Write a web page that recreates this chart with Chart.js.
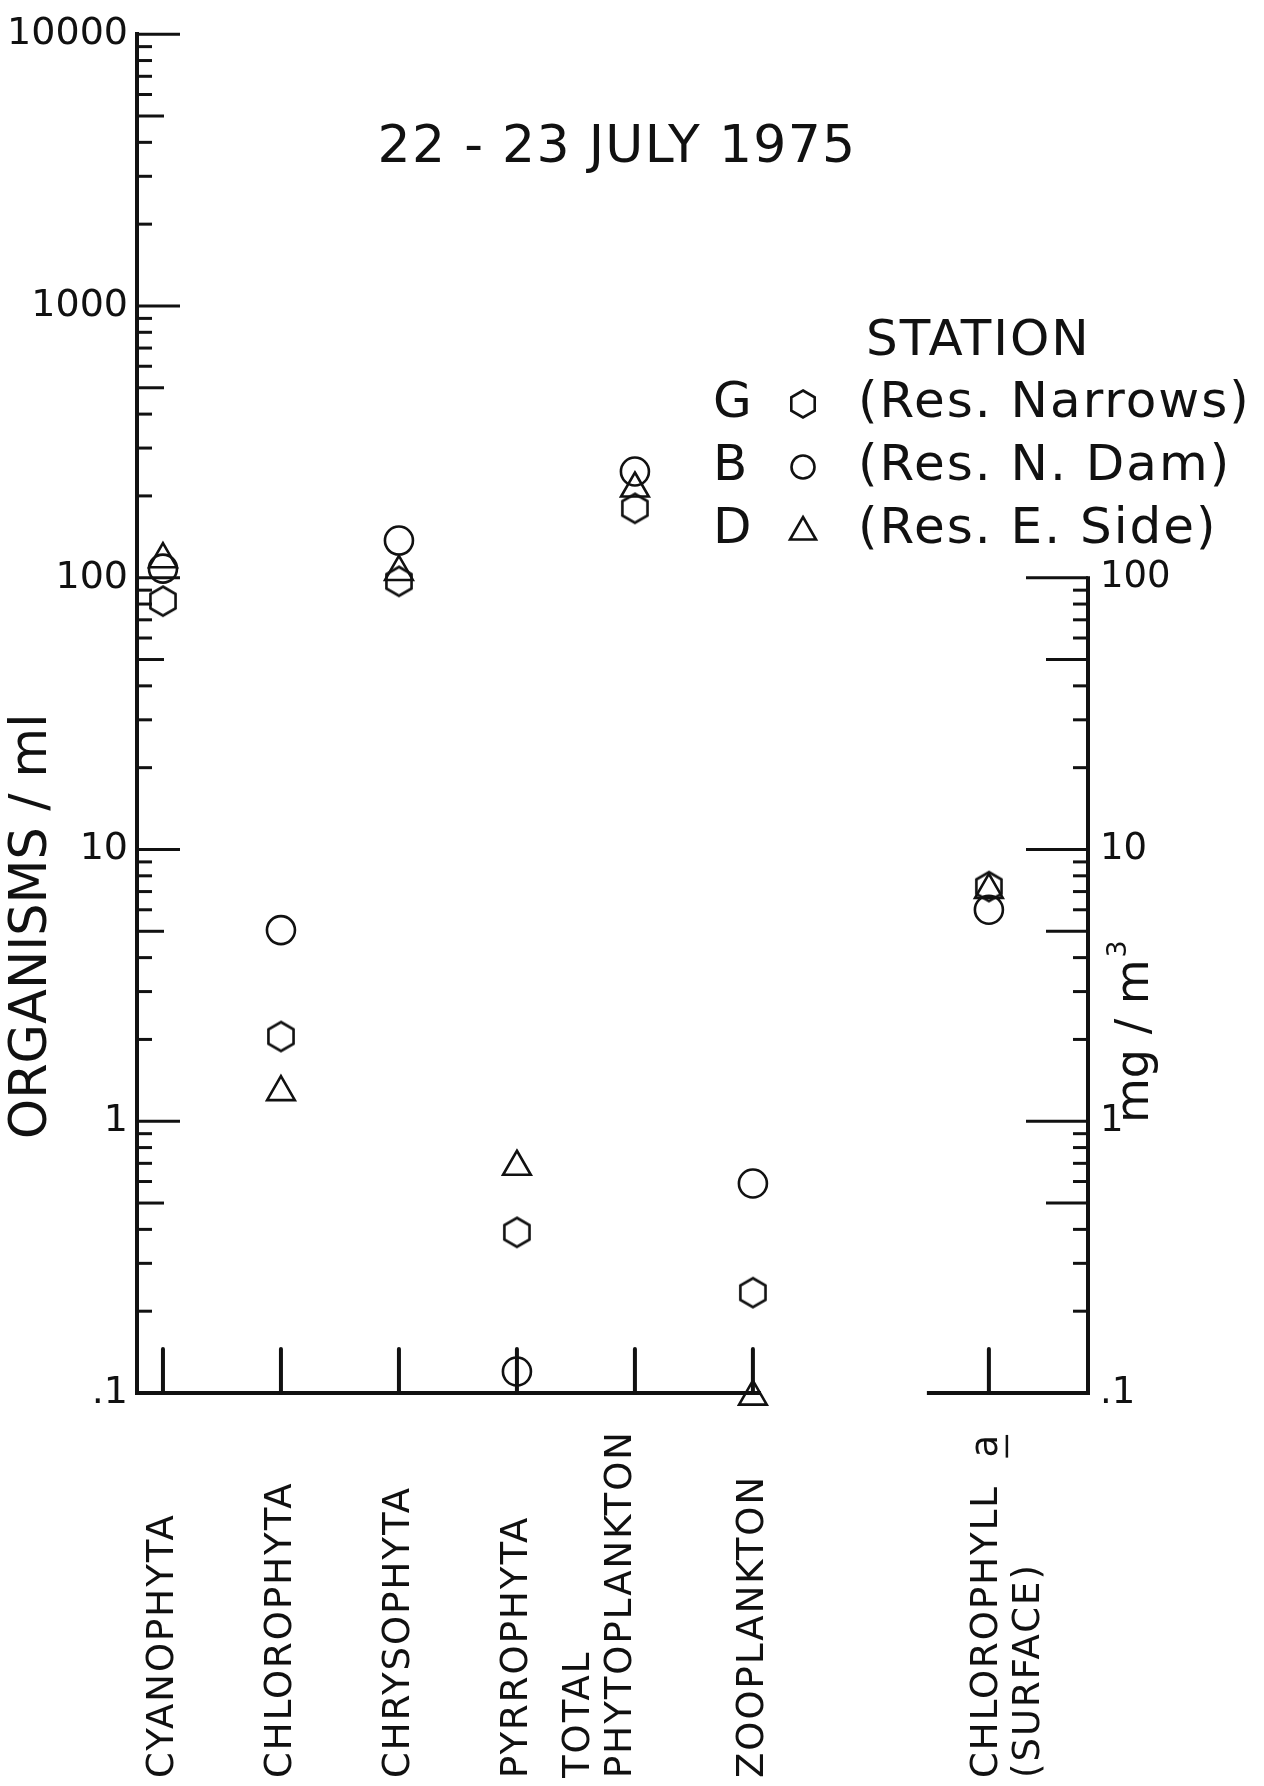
<!DOCTYPE html>
<html>
<head>
<meta charset="utf-8">
<title>Organisms / ml, 22-23 July 1975</title>
<script src="https://cdn.jsdelivr.net/npm/chart.js@4.4.1/dist/chart.umd.min.js"></script>
<style>
  html, body { margin: 0; padding: 0; background: #fff; }
  #box { width: 1264px; height: 1786px; }
</style>
</head>
<body>
<div id="box"><canvas id="chart"></canvas></div>
<script>
// groups along the bottom, "" keeps the gap before chlorophyll
const categories = ["CYANOPHYTA", "CHLOROPHYTA", "CHRYSOPHYTA", "PYRROPHYTA",
  ["TOTAL", "PHYTOPLANKTON"], "ZOOPLANKTON", "", ["CHLOROPHYLL  a", "(SURFACE)"]];

// organisms / ml (left axis)
const stationG = [82, 2.05, 97, 0.39, 180, 0.234];
const stationB = [108, 5.05, 137, 0.12, 246, 0.59];
const stationD = [117, 1.28, 105, 0.68, 213, 0.097];

// chlorophyll a at the surface, mg/m3 (right axis)
const chlorophyllG = [7.3];
const chlorophyllB = [6.0];
const chlorophyllD = [7.1];

const stationCodes = ["G", "B", "D"];
const stationNames = ["(Res. Narrows)", "(Res. N. Dam)", "(Res. E. Side)"];

const leftTicks = [0.1, 1, 10, 100, 1000, 10000];
const leftTickLabels = [".1", "1", "10", "100", "1000", "10000"];
const rightTicks = [0.1, 1, 10, 100];
const rightTickLabels = [".1", "1", "10", "100"];

const chartTitle = "22 - 23 JULY 1975";
const leftTitle = "ORGANISMS / ml";

const ink = "#111";
const FONT = '"DejaVu Sans", sans-serif';
Chart.defaults.font.family = FONT;

const chlIndex = categories.length - 1;

function hexPath(g, cx, cy, R) {
  g.beginPath();
  for (let k = 0; k < 6; k++) {
    const ang = -Math.PI / 2 + k * Math.PI / 3;
    const px = cx + R * Math.cos(ang), py = cy + R * Math.sin(ang);
    if (k) g.lineTo(px, py); else g.moveTo(px, py);
  }
  g.closePath();
}

function triPath(g, cx, cy, r) {
  g.beginPath();
  for (let k = 0; k < 3; k++) {
    const ang = k * 2 * Math.PI / 3;
    const px = cx + Math.sin(ang) * r, py = cy - Math.cos(ang) * r;
    if (k) g.lineTo(px, py); else g.moveTo(px, py);
  }
  g.closePath();
}

// hexagon marker as an image, Chart.js has no hexagon point style
function hexagonImage(R, lw) {
  const s = Math.ceil(2 * R + lw + 2);
  const c = document.createElement("canvas");
  c.width = s; c.height = s;
  const g = c.getContext("2d");
  hexPath(g, s / 2, s / 2, R);
  g.lineWidth = lw;
  g.strokeStyle = ink;
  g.stroke();
  return c;
}

const hexImg = hexagonImage(14.5, 2.6);

function pts(vals, atX) {
  return vals.map((v, i) => ({ x: atX === undefined ? i : atX, y: v }));
}

function markerSet(label, data, axis, style, radius) {
  return {
    label: label,
    data: data,
    yAxisID: axis,
    pointStyle: style,
    pointRadius: radius,
    pointHoverRadius: radius,
    pointBorderWidth: 2.6,
    pointBorderColor: ink,
    pointBackgroundColor: "rgba(0,0,0,0)",
    showLine: false,
    clip: false
  };
}

function seg(ctx, x1, y1, x2, y2) {
  ctx.beginPath();
  ctx.moveTo(x1, y1);
  ctx.lineTo(x2, y2);
  ctx.stroke();
}

// axis decorations the old drawing has: inward ticks, broken bottom axis
const paperAxes = {
  id: "paperAxes",
  beforeDatasetsDraw(chart) {
    const { ctx, chartArea: a, scales: { x, y, y2 } } = chart;
    ctx.save();
    ctx.strokeStyle = ink;
    ctx.lineCap = "butt";

    // left axis ticks
    ctx.lineWidth = 3;
    for (let e = -1; e <= 4; e++) {
      for (let m = 1; m <= 9; m++) {
        const v = m * Math.pow(10, e);
        if (v > 10000 * 1.001) break;
        const len = m === 1 ? 43 : (m === 5 ? 27 : 15);
        const py = y.getPixelForValue(v);
        seg(ctx, a.left, py, a.left + len, py);
      }
    }

    // right axis, only 0.1 to 100
    ctx.lineWidth = 4;
    seg(ctx, a.right, y2.getPixelForValue(0.1) + 2, a.right, y2.getPixelForValue(100) - 1.5);
    ctx.lineWidth = 3;
    for (let e = -1; e <= 2; e++) {
      for (let m = 1; m <= 9; m++) {
        const v = m * Math.pow(10, e);
        if (v > 100 * 1.001) break;
        const len = m === 1 ? 62 : (m === 5 ? 42 : 15);
        const py = y2.getPixelForValue(v);
        seg(ctx, a.right - len, py, a.right, py);
      }
    }

    // bottom axis with the gap
    ctx.lineWidth = 4;
    seg(ctx, a.left - 2, a.bottom, x.getPixelForValue(5) + 8, a.bottom);
    seg(ctx, x.getPixelForValue(chlIndex) - 62, a.bottom, a.right + 2, a.bottom);

    // short upright ticks at each group
    ctx.lineCap = "round";
    categories.forEach((c, i) => {
      if (!c) return;
      const px = x.getPixelForValue(i);
      seg(ctx, px, a.bottom, px, a.bottom - 44);
    });
    ctx.restore();
  },

  afterDraw(chart) {
    const { ctx, scales: { x } } = chart;
    ctx.save();
    ctx.fillStyle = ink;
    ctx.strokeStyle = ink;

    // title
    ctx.font = "52px " + FONT;
    ctx.letterSpacing = "1.3px";
    ctx.textAlign = "center";
    ctx.textBaseline = "middle";
    ctx.fillText(chartTitle, 617, 148);

    // station key
    ctx.font = "50px " + FONT;
    ctx.letterSpacing = "2px";
    ctx.textAlign = "left";
    ctx.fillText("STATION", 866, 342);
    const rowY = [404, 467, 530];
    stationCodes.forEach((code, k) => {
      ctx.fillText(code, 713, rowY[k]);
      ctx.fillText(stationNames[k], 858, rowY[k]);
      ctx.lineWidth = 2.6;
      if (k === 0) hexPath(ctx, 803, rowY[k], 13.5);
      else if (k === 1) { ctx.beginPath(); ctx.arc(803, rowY[k], 11.5, 0, Math.PI * 2); }
      else triPath(ctx, 803, rowY[k] + 2, 15);
      ctx.stroke();
    });

    // left axis title
    ctx.letterSpacing = "0px";
    ctx.save();
    ctx.translate(33, 1139);
    ctx.rotate(-Math.PI / 2);
    ctx.font = "51px " + FONT;
    ctx.textAlign = "left";
    ctx.textBaseline = "middle";
    ctx.fillText(leftTitle, 0, 0);
    ctx.restore();

    // right axis title mg / m3
    ctx.save();
    ctx.translate(1148, 1123);
    ctx.rotate(-Math.PI / 2);
    ctx.font = "46px " + FONT;
    ctx.textAlign = "left";
    ctx.textBaseline = "alphabetic";
    ctx.fillText("mg / m", 0, 0);
    const w = ctx.measureText("mg / m").width;
    ctx.font = "27px " + FONT;
    ctx.fillText("3", w + 2, -22);
    ctx.restore();

    // group names, read upward from the bottom edge
    const labelShift = { 4: -35, 7: 20 };
    const lineGap = 42;
    ctx.font = "37px " + FONT;
    ctx.letterSpacing = "2px";
    categories.forEach((c, i) => {
      if (!c) return;
      const lines = Array.isArray(c) ? c : [c];
      const px = x.getPixelForValue(i) + (labelShift[i] || 0);
      lines.forEach((line, k) => {
        const lx = px + (k - (lines.length - 1) / 2) * lineGap;
        ctx.save();
        ctx.translate(lx, 1778);
        ctx.rotate(-Math.PI / 2);
        ctx.textAlign = "left";
        ctx.textBaseline = "middle";
        ctx.fillText(line, 0, 0);
        const m = line.match(/^(.*\s)([a-z])$/);
        if (m) {
          const w0 = ctx.measureText(m[1]).width;
          const wa = ctx.measureText(m[2]).width - 2;
          ctx.lineWidth = 2.5;
          seg(ctx, w0, 19, w0 + wa, 19);
        }
        ctx.restore();
      });
    });
    ctx.restore();
  }
};

new Chart(document.getElementById("chart"), {
  type: "scatter",
  data: {
    datasets: [
      markerSet("G", pts(stationG), "y", hexImg, 14),
      markerSet("B", pts(stationB), "y", "circle", 14),
      markerSet("D", pts(stationD), "y", "triangle", 16),
      markerSet("G chlorophyll", pts(chlorophyllG, chlIndex), "y2", hexImg, 14),
      markerSet("B chlorophyll", pts(chlorophyllB, chlIndex), "y2", "circle", 14),
      markerSet("D chlorophyll", pts(chlorophyllD, chlIndex), "y2", "triangle", 16)
    ]
  },
  options: {
    responsive: true,
    maintainAspectRatio: false,
    animation: false,
    devicePixelRatio: 1,
    events: [],
    layout: { padding: { top: 33, bottom: 393, left: 0, right: 0 } },
    plugins: {
      legend: { display: false },
      tooltip: { enabled: false }
    },
    scales: {
      x: { type: "linear", display: false, min: -0.22, max: 7.84 },
      y: {
        type: "logarithmic",
        position: "left",
        min: 0.1,
        max: 10000,
        afterFit: s => { s.width = 137; },
        afterBuildTicks: s => { s.ticks = leftTicks.map(v => ({ value: v })); },
        border: { display: true, color: ink, width: 4 },
        grid: { display: true, drawOnChartArea: false, drawTicks: false, color: "rgba(0,0,0,0)" },
        ticks: {
          autoSkip: false,
          padding: 9,
          color: ink,
          font: { size: 38 },
          callback: (v, i) => leftTickLabels[i]
        }
      },
      y2: {
        type: "logarithmic",
        position: "right",
        min: 0.1,
        max: 10000,
        afterFit: s => { s.width = 176; },
        afterBuildTicks: s => { s.ticks = rightTicks.map(v => ({ value: v })); },
        border: { display: false },
        grid: { display: false, drawOnChartArea: false, drawTicks: false },
        ticks: {
          autoSkip: false,
          padding: 12,
          color: ink,
          font: { size: 37 },
          callback: (v, i) => rightTickLabels[i]
        }
      }
    }
  },
  plugins: [paperAxes]
});
</script>
</body>
</html>
